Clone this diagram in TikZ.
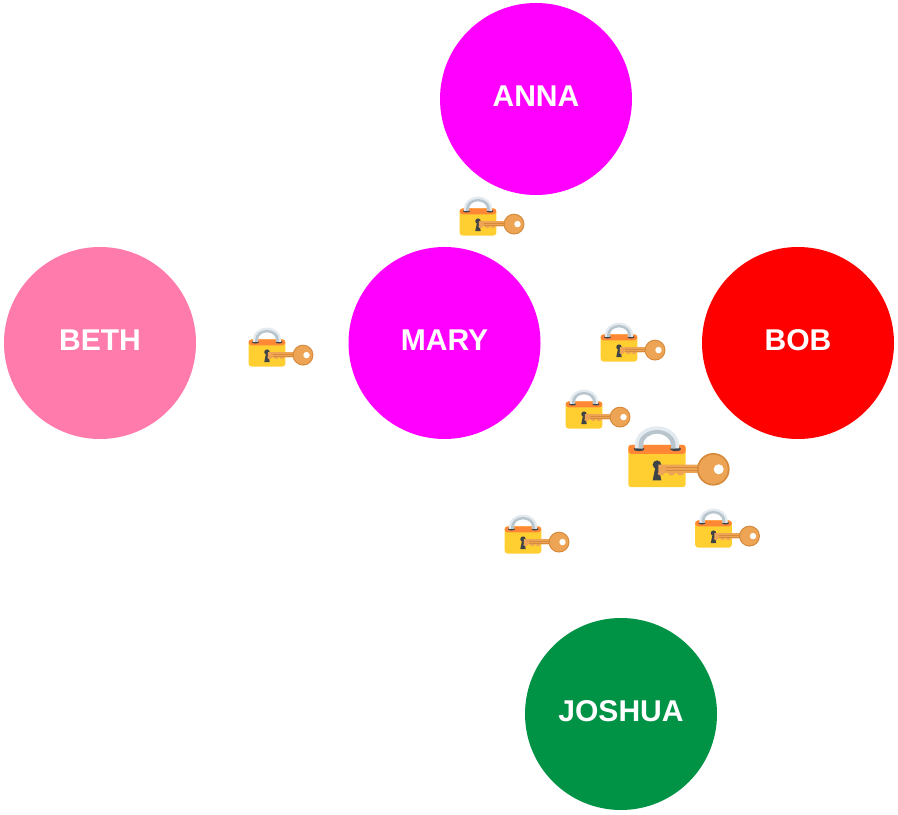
\documentclass[tikz,border=0pt]{standalone}
\usepackage{fontspec}
\setmainfont{Liberation Sans}
\definecolor{lockyellow}{HTML}{FFCE31}
\definecolor{lockorange}{HTML}{FF8736}
\definecolor{keyorange}{HTML}{EDA454}
\definecolor{keydark}{HTML}{D68A3C}
\definecolor{holedark}{HTML}{3E4347}
\definecolor{shackleout}{HTML}{E4EBF0}
\definecolor{shacklein}{HTML}{B8C5CD}
\definecolor{marypink}{RGB}{255,0,255}
\definecolor{bethpink}{HTML}{FF7BAC}
\definecolor{joshgreen}{HTML}{009245}
\tikzset{
    person/.style={circle, minimum size=1.92 cm, inner sep=0pt, text=white, text depth=0.06 cm, font=\fontsize{8.55pt}{10pt}\selectfont\bfseries},
    pics/lockkey/.style={code={
        \fill[lockyellow, rounded corners=0.03 cm] (-0.287,-0.212) rectangle (0.287,0.212);
        \fill[lockorange, rounded corners=0.03 cm] (-0.287,0.120) -- (-0.287,0.212) -- (0.287,0.212) -- (0.287,0.120) -- cycle;
        \fill[holedark] (-0.180,0.170) ellipse (0.055 and 0.022);
        \fill[holedark] (0.187,0.170) ellipse (0.055 and 0.022);
        \fill[shackleout] (-0.222,0.175) -- (-0.222,0.210) arc (180:0:0.222 and 0.187) -- (0.222,0.175) -- (0.140,0.175) -- (0.140,0.210) arc (0:180:0.140 and 0.113) -- (-0.140,0.175) -- cycle;
        \fill[shacklein] (-0.185,0.175) -- (-0.185,0.210) arc (180:0:0.185 and 0.150) -- (0.185,0.175) -- (0.140,0.175) -- (0.140,0.210) arc (0:180:0.140 and 0.113) -- (-0.140,0.175) -- cycle;
        \fill[holedark] (0,0.013) circle (0.043);
        \fill[holedark] (-0.018,-0.020) -- (-0.043,-0.143) -- (0.043,-0.143) -- (0.018,-0.020) -- cycle;
        \fill[keyorange] (0.013,0.013) -- (0.440,0.013) -- (0.440,-0.070) -- (0.270,-0.070) arc (0:-180:0.035 and 0.025) -- (0.180,-0.070) arc (0:-180:0.035 and 0.025) -- (0.075,-0.070) arc (0:-180:0.035 and 0.025) -- (0.013,-0.070) -- cycle;
        \fill[keydark] (0.090,-0.012) rectangle (0.410,-0.020);
        \fill[keydark] (0.090,-0.040) rectangle (0.410,-0.048);
        \fill[keydark] (0.563,-0.033) circle (0.163);
        \fill[keyorange] (0.563,-0.033) circle (0.145);
        \fill[white] (0.617,-0.033) circle (0.050);
    }}
}
\begin{document}
\begin{tikzpicture}
    \useasboundingbox (0,0) rectangle (8.98,8.14);
    \node[person, fill=marypink] (anna) at (5.36,7.15) {ANNA};
    \node[person, fill=bethpink] (beth) at (1.00,4.71) {BETH};
    \node[person, fill=marypink] (mary) at (4.445,4.71) {MARY};
    \node[person, fill=red] (bob) at (7.98,4.71) {BOB};
    \node[person, fill=joshgreen] (joshua) at (6.21,1.00) {JOSHUA};
    \pic[scale=0.64] at (4.78,5.92) {lockkey};
    \pic[scale=0.64] at (2.67,4.61) {lockkey};
    \pic[scale=0.64] at (6.19,4.66) {lockkey};
    \pic[scale=0.64] at (5.84,3.99) {lockkey};
    \pic at (6.57,3.48) {lockkey};
    \pic[scale=0.64] at (5.23,2.74) {lockkey};
    \pic[scale=0.64] at (7.135,2.80) {lockkey};
\end{tikzpicture}
\end{document}
